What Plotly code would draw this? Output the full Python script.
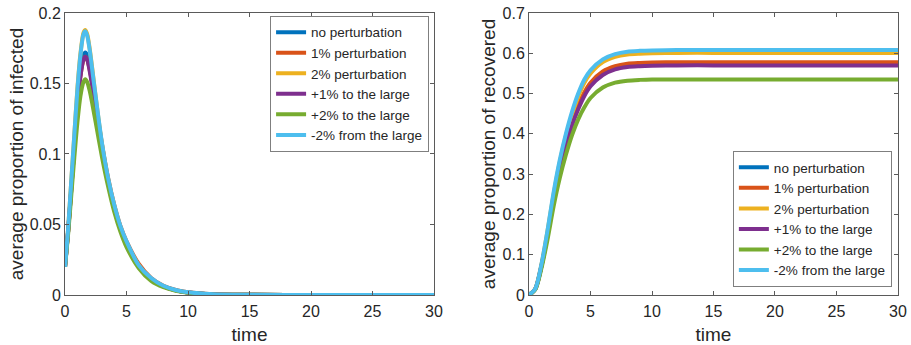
import plotly.graph_objects as go

names = ["no perturbation", "1% perturbation", "2% perturbation",
         "+1% to the large", "+2% to the large", "-2% from the large"]
colors = ["#0072BD", "#D95319", "#EDB120", "#7E2F8E", "#77AC30", "#4DBEEE"]

t_inf = [0, 0.25, 0.5, 0.75, 1.0, 1.25, 1.5, 1.65, 1.8, 2.0, 2.25, 2.5, 3.0, 3.5,
         4, 4.5, 5, 6, 7, 8, 9, 10, 12, 15, 20, 30]
inf_none = [0.020, 0.045, 0.075, 0.105, 0.135, 0.157, 0.170, 0.172, 0.170, 0.162, 0.148, 0.134, 0.105,
            0.081, 0.062, 0.047, 0.036, 0.020, 0.011, 0.006, 0.0033, 0.0018, 0.0005, 0.0001, 0, 0]
inf_p1 = [0.020, 0.045, 0.074, 0.104, 0.133, 0.155, 0.167, 0.169, 0.167, 0.160, 0.148, 0.135, 0.107,
          0.083, 0.064, 0.049, 0.038, 0.022, 0.012, 0.0065, 0.0036, 0.002, 0.0006, 0.0001, 0, 0]
inf_p2 = [0.020, 0.047, 0.080, 0.113, 0.146, 0.171, 0.186, 0.188, 0.185, 0.175, 0.158, 0.140, 0.107,
          0.082, 0.063, 0.048, 0.037, 0.021, 0.011, 0.006, 0.0033, 0.0018, 0.0005, 0.0001, 0, 0]
inf_l1 = [0.020, 0.045, 0.074, 0.104, 0.133, 0.155, 0.167, 0.169, 0.167, 0.159, 0.146, 0.132, 0.104,
          0.080, 0.061, 0.047, 0.036, 0.020, 0.011, 0.006, 0.0033, 0.0018, 0.0005, 0.0001, 0, 0]
inf_l2 = [0.020, 0.043, 0.070, 0.097, 0.122, 0.141, 0.151, 0.153, 0.151, 0.145, 0.134, 0.122, 0.098,
          0.077, 0.059, 0.045, 0.034, 0.019, 0.010, 0.0055, 0.003, 0.0016, 0.0004, 0.0001, 0, 0]
inf_m2 = [0.020, 0.047, 0.080, 0.113, 0.145, 0.170, 0.185, 0.187, 0.184, 0.174, 0.157, 0.140, 0.108,
          0.083, 0.064, 0.049, 0.038, 0.021, 0.012, 0.0065, 0.0035, 0.0019, 0.0005, 0.0001, 0, 0]

t_rec = [0, 0.5, 1, 1.5, 2, 2.5, 3, 3.5, 4, 4.5, 5, 6, 7, 8, 9, 10, 12, 15, 20, 30]
rec_none = [0, 0.014, 0.070, 0.149, 0.238, 0.312, 0.374, 0.426, 0.466, 0.499, 0.523, 0.551, 0.565,
            0.571, 0.573, 0.574, 0.575, 0.575, 0.575, 0.575]
rec_p1 = [0, 0.014, 0.071, 0.150, 0.240, 0.315, 0.377, 0.430, 0.470, 0.503, 0.527, 0.555, 0.568,
          0.574, 0.576, 0.577, 0.578, 0.578, 0.578, 0.578]
rec_p2 = [0, 0.015, 0.074, 0.158, 0.250, 0.330, 0.395, 0.448, 0.492, 0.527, 0.550, 0.578, 0.591,
          0.597, 0.599, 0.600, 0.601, 0.601, 0.601, 0.601]
rec_l1 = [0, 0.014, 0.070, 0.147, 0.235, 0.309, 0.370, 0.421, 0.461, 0.494, 0.518, 0.546, 0.560,
          0.566, 0.568, 0.569, 0.570, 0.570, 0.570, 0.570]
rec_l2 = [0, 0.013, 0.065, 0.137, 0.220, 0.290, 0.348, 0.397, 0.436, 0.466, 0.489, 0.515, 0.527,
          0.532, 0.534, 0.535, 0.535, 0.535, 0.535, 0.535]
rec_m2 = [0, 0.015, 0.075, 0.160, 0.255, 0.335, 0.400, 0.455, 0.500, 0.535, 0.558, 0.585, 0.598,
          0.604, 0.606, 0.607, 0.608, 0.608, 0.608, 0.608]

inf_series = [inf_none, inf_p1, inf_p2, inf_l1, inf_l2, inf_m2]
rec_series = [rec_none, rec_p1, rec_p2, rec_l1, rec_l2, rec_m2]

fig = go.Figure()
for name, col, ys in zip(names, colors, inf_series):
    fig.add_trace(go.Scatter(x=t_inf, y=ys, mode="lines", name=name,
                             line=dict(color=col, width=4, shape="spline", smoothing=0.8),
                             xaxis="x", yaxis="y", legend="legend"))
for name, col, ys in zip(names, colors, rec_series):
    fig.add_trace(go.Scatter(x=t_rec, y=ys, mode="lines", name=name,
                             line=dict(color=col, width=4, shape="spline", smoothing=0.8),
                             xaxis="x2", yaxis="y2", legend="legend2"))

axcol = "#5a5a5a"
font = dict(family="Liberation Sans, Arial, sans-serif", size=16, color="#262626")
common = dict(showline=True, linecolor=axcol, linewidth=1, mirror="ticks", ticks="inside",
              ticklen=4, tickcolor=axcol, showgrid=False, zeroline=False, automargin=False,
              tickfont=dict(size=16, color="#262626"))

legend_common = dict(bgcolor="white", bordercolor="#7f7f7f", borderwidth=1,
                     font=dict(size=13.5, color="#262626"), tracegroupgap=0,
                     xanchor="right", itemwidth=30)

fig.update_layout(
    width=911, height=345,
    margin=dict(l=0, r=0, t=0, b=0, autoexpand=False),
    paper_bgcolor="white", plot_bgcolor="white",
    font=font,
    xaxis=dict(domain=[0.0714, 0.4764], range=[0, 30], dtick=5, anchor="y", ticklabelstandoff=2,
               title=dict(text="time", standoff=9), **common),
    yaxis=dict(domain=[0.145, 0.9623], range=[0, 0.2], dtick=0.05, anchor="x",
               title=dict(text="average proportion of infected", standoff=1), **common),
    xaxis2=dict(domain=[0.5807, 0.9857], range=[0, 30], dtick=5, anchor="y2", ticklabelstandoff=2,
                title=dict(text="time", standoff=9), **common),
    yaxis2=dict(domain=[0.145, 0.9623], range=[0, 0.7], dtick=0.1, anchor="x2",
                title=dict(text="average proportion of recovered", standoff=1), **common),
    legend=dict(x=0.471, y=0.954, yanchor="top", **legend_common),
    legend2=dict(x=0.979, y=0.168, yanchor="bottom", **legend_common),
)

fig.write_html("out.html", config={"displayModeBar": False},
               post_script="document.body.style.margin='0';document.body.style.overflow='hidden';")
